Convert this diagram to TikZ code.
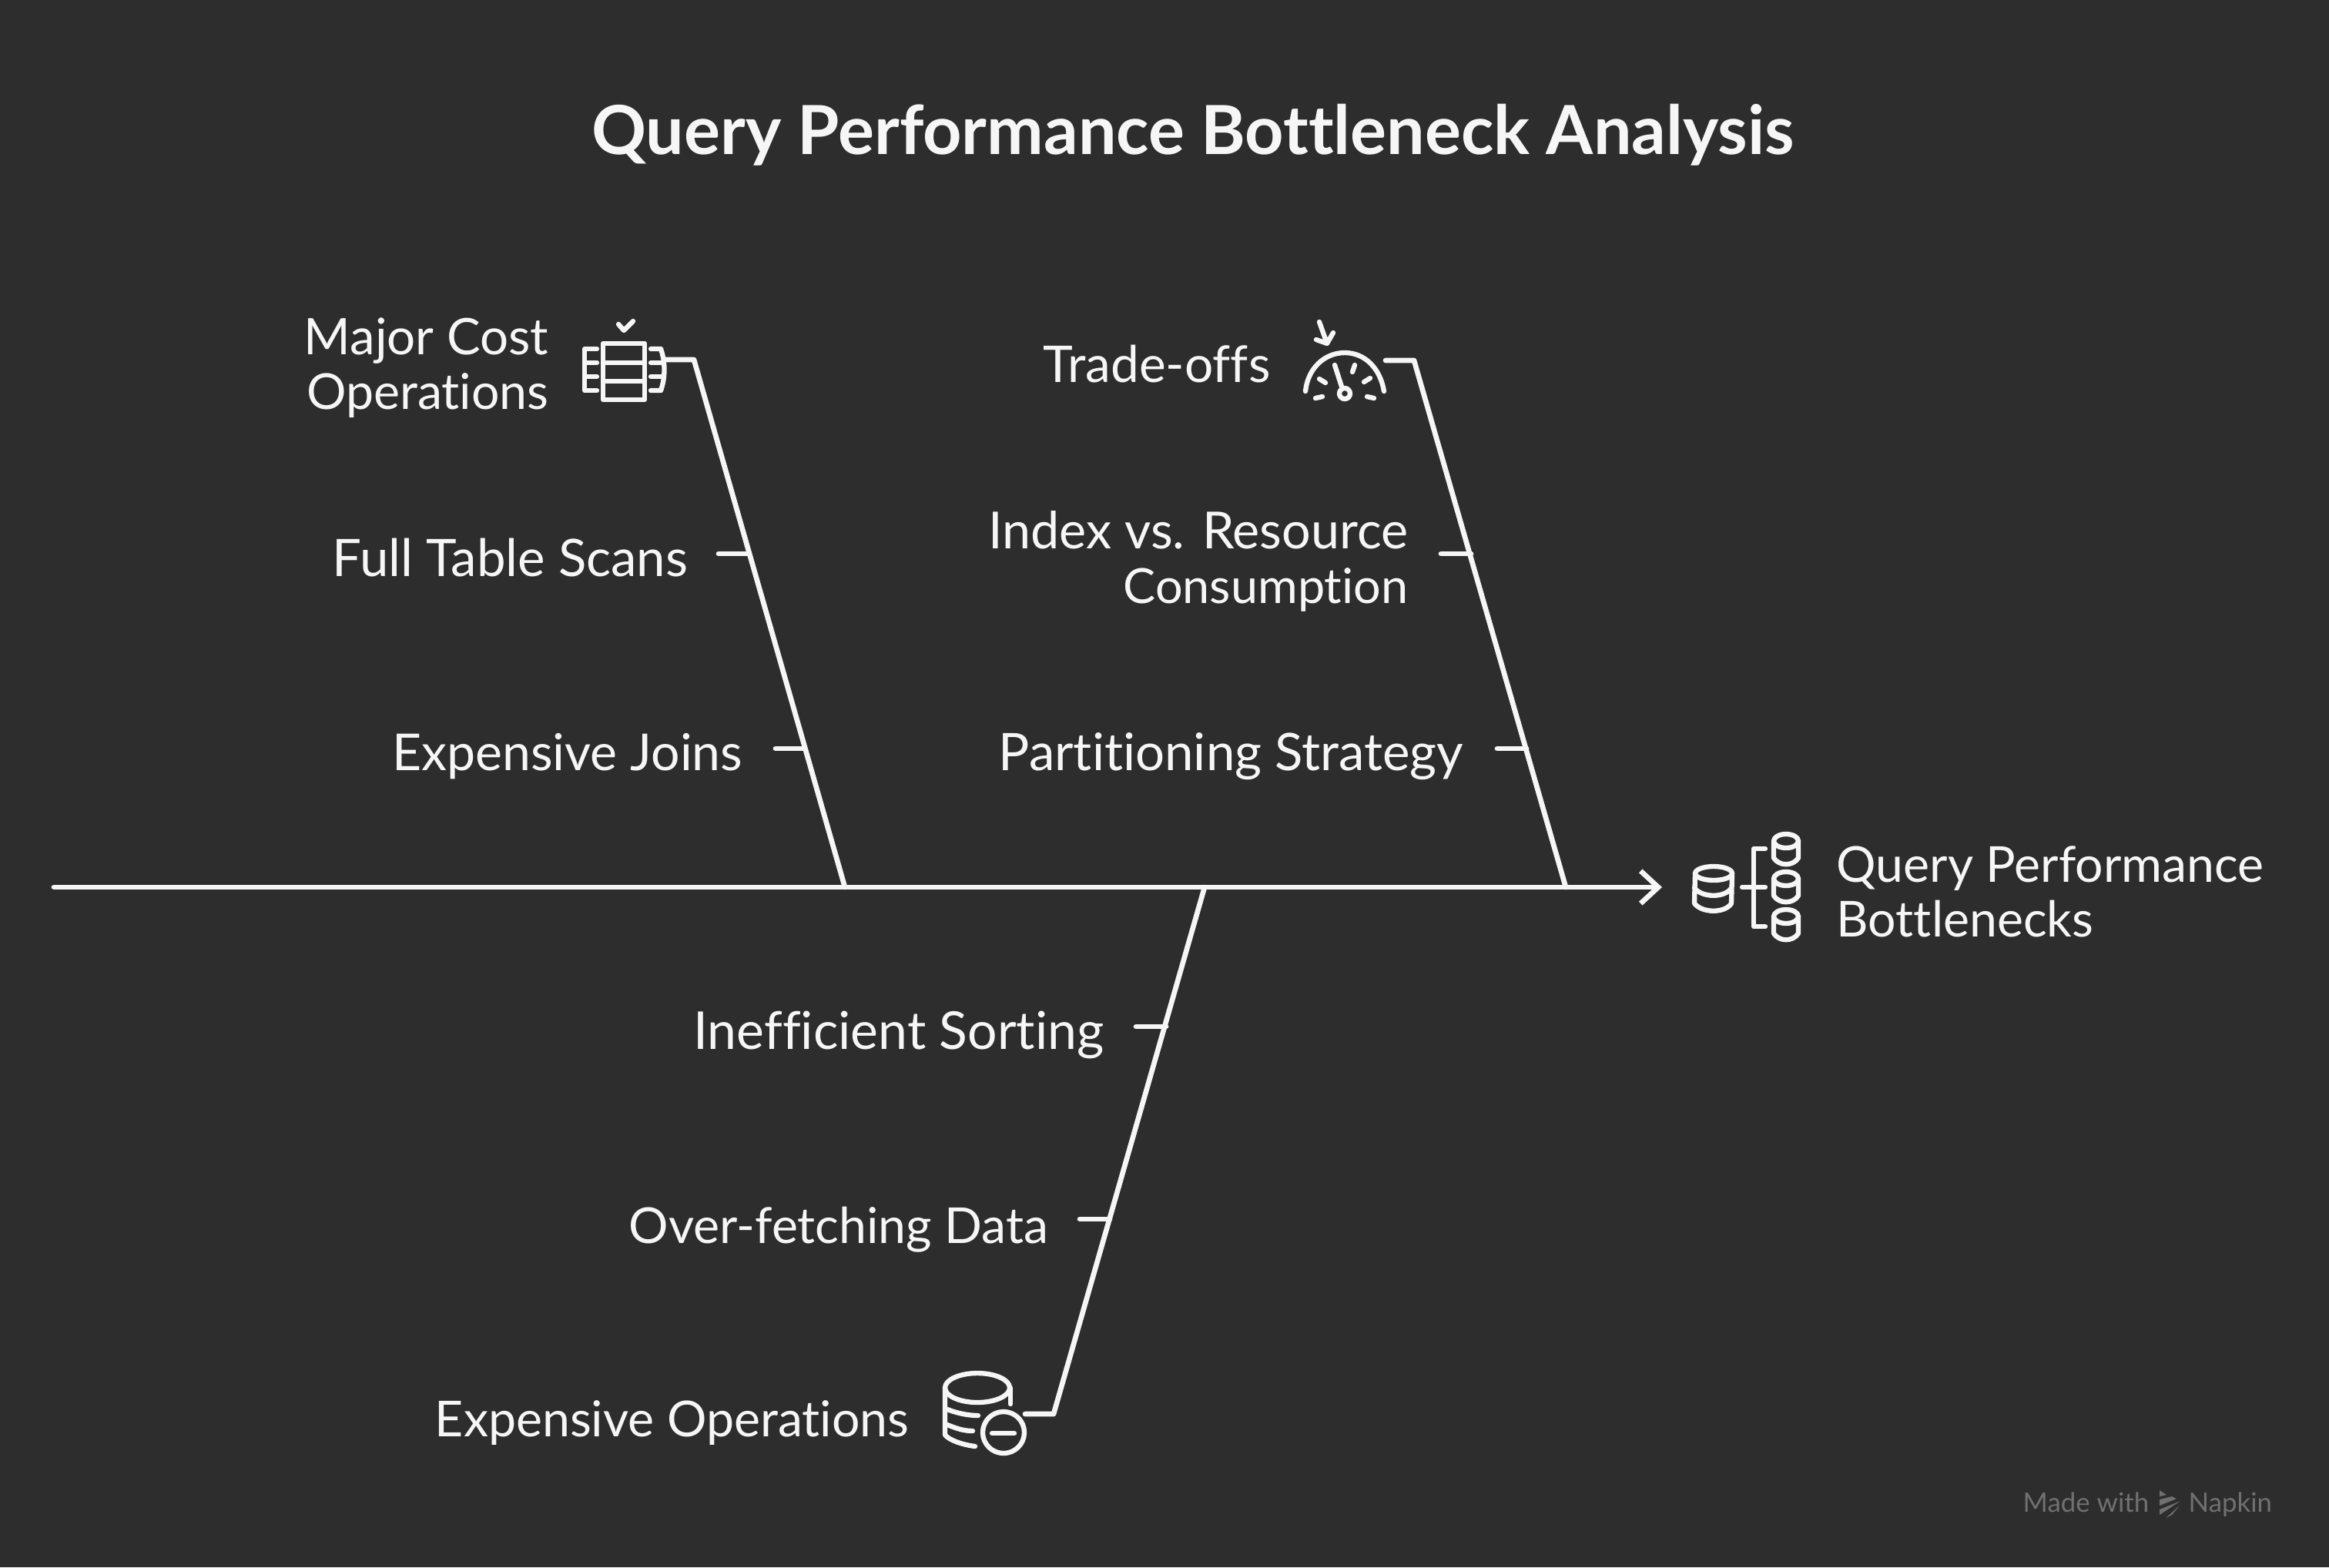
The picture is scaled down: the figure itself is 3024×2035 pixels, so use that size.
\documentclass[tikz,border=0pt]{standalone}
\usepackage{fontspec}
\setmainfont[Ligatures=CommonOff]{Lato}
\usetikzlibrary{arrows.meta, positioning}
\definecolor{boardgrey}{HTML}{2D2D2D}
\definecolor{chalk}{HTML}{F6F6F6}
\definecolor{stampgrey}{HTML}{707070}
\tikzset{
  bone/.style={draw=chalk, line width=1.9pt, line cap=round, line join=round},
  glyph/.style={draw=chalk, line width=1.8pt, line cap=round, line join=round},
  lbl/.style={text=chalk, inner sep=0pt, align=right, anchor=east, font=\fontsize{#1}{20.2}\selectfont},
  lbl/.default=18.3,
  stamp/.style={text=stampgrey, inner sep=0pt, font=\fontsize{9.9}{11}\selectfont},
}

\begin{document}
\begin{tikzpicture}[x=0.01cm,y=-0.01cm]
    \useasboundingbox (0,0) rectangle (3024,2035);
    \fill[boardgrey] (0,0) rectangle (3024,2035);

      \node[text=chalk, inner sep=0pt, font=\fontsize{25}{29}\bfseries\selectfont] (title) at (1549,175) {Query Performance Bottleneck Analysis};

      % spine
      \coordinate (tail) at (70,1152);
      \coordinate (head) at (2158,1152);
      \draw[bone, -{Straight Barb[length=6.5pt,width=12pt]}] (tail) -- (head);

      % upper left rib
      \coordinate (cost_s) at (863,467);
      \coordinate (cost_c) at (901,467);
      \coordinate (cost_e) at (1097,1152);
      \draw[bone] (cost_s) -- (cost_c) -- (cost_e);

      \node[lbl] (cost)  at (713,478) {\fontsize{18.6}{20.2}\selectfont Major Cost\\Operations};
      \node[lbl=19.1] (scans) at (894,724) {Full Table Scans};
      \node[lbl=18.8] (joins) at (965,982) {Expensive Joins};

      \coordinate (scans_s) at (933,719);
      \coordinate (scans_e) at (972,719);
      \coordinate (joins_s) at (1007,972);
      \coordinate (joins_e) at (1045,972);
      \draw[bone] (scans_s) -- (scans_e);
      \draw[bone] (joins_s) -- (joins_e);

      % upper right rib
      \coordinate (trade_s) at (1799,468);
      \coordinate (trade_c) at (1836,468);
      \coordinate (trade_e) at (2033,1152);
      \draw[bone] (trade_s) -- (trade_c) -- (trade_e);

      \node[lbl=18.7] (trade) at (1650,473) {Trade-offs};
      \node[lbl=18.9] (index) at (1829,729) {Index vs. Resource\\\fontsize{17.9}{20.2}\selectfont Consumption};
      \node[lbl=19.1] (parts) at (1901,982) {Partitioning Strategy};

      \coordinate (index_s) at (1871,719);
      \coordinate (index_e) at (1910,719);
      \coordinate (parts_s) at (1944,972);
      \coordinate (parts_e) at (1982,972);
      \draw[bone] (index_s) -- (index_e);
      \draw[bone] (parts_s) -- (parts_e);

      % lower rib
      \coordinate (ops_s) at (1331,1836);
      \coordinate (ops_c) at (1368,1836);
      \coordinate (ops_e) at (1564,1152);
      \draw[bone] (ops_s) -- (ops_c) -- (ops_e);

      \node[lbl=19.3] (sorting) at (1434,1344) {Inefficient Sorting};
      \node[lbl]      (fetch)   at (1362,1597) {Over-fetching Data};
      \node[lbl]      (ops)     at (1181,1848) {Expensive Operations};

      \coordinate (sorting_s) at (1475,1333);
      \coordinate (sorting_e) at (1514,1333);
      \coordinate (fetch_s) at (1402,1583);
      \coordinate (fetch_e) at (1441,1583);
      \draw[bone] (sorting_s) -- (sorting_e);
      \draw[bone] (fetch_s) -- (fetch_e);

      % effect
      \node[lbl, anchor=west, align=left] (effect) at (2384,1158) {Query Performance\\Bottlenecks};

      % table icon
      \draw[glyph] (783,446) rectangle (837,519);
      \draw[glyph] (783,471) -- (837,471) (783,495) -- (837,495);
      \draw[glyph] (775,453) -- (759,453) -- (759,507) -- (775,507);
      \draw[glyph] (759,471) -- (775,471) (759,489) -- (775,489);
      \draw[glyph] (845,453) -- (858,453) .. controls (864,470) and (864,490) .. (858,507) -- (845,507);
      \draw[glyph] (845,471) -- (861,471) (845,489) -- (861,489);
      \draw[glyph] (803,421) -- (810,429) -- (822,417);

      % gauge icon
      \draw[glyph] (1695,508) .. controls (1698,478) and (1720,458) .. (1746,458) .. controls (1772,458) and (1792,478) .. (1797,508);
      \draw[glyph] (1746,511) circle [radius=7];
      \draw[glyph] (1733,474) -- (1742,502);
      \draw[glyph] (1708,517) -- (1717,515) (1713,492) -- (1721,497) (1759,474) -- (1756,483);
      \draw[glyph] (1779,491) -- (1771,496) (1775,515) -- (1784,517);
      \draw[glyph] (1713,418) -- (1723,446) (1709,441) -- (1723,446) -- (1731,432);

      % database group icon
      \draw[glyph] (2225,1134) ellipse [x radius=24, y radius=9];
      \draw[glyph] (2201,1134) -- (2200,1173) .. controls (2210,1186) and (2240,1186) .. (2248,1173) -- (2249,1134);
      \draw[glyph] (2200,1153) .. controls (2210,1166) and (2240,1166) .. (2248,1153);
      \draw[glyph] (2292,1102) -- (2277,1102) -- (2277,1203) -- (2292,1203);
      \draw[glyph] (2262,1152) -- (2292,1152);
      \draw[glyph] (2319,1092) ellipse [x radius=16, y radius=9];
      \draw[glyph] (2303,1092) -- (2303,1114) .. controls (2310,1125) and (2328,1125) .. (2335,1114) -- (2335,1092);
      \draw[glyph] (2319,1141) ellipse [x radius=16, y radius=9];
      \draw[glyph] (2303,1141) -- (2303,1163) .. controls (2310,1174) and (2328,1174) .. (2335,1163) -- (2335,1141);
      \draw[glyph] (2319,1190) ellipse [x radius=16, y radius=9];
      \draw[glyph] (2303,1190) -- (2303,1212) .. controls (2310,1223) and (2328,1223) .. (2335,1212) -- (2335,1190);

      % expensive database icon
      \draw[glyph] (1269,1802) ellipse [x radius=42, y radius=19];
      \draw[glyph] (1227,1802) -- (1227,1863) .. controls (1232,1870) and (1250,1876) .. (1266,1878);
      \draw[glyph] (1312,1802) -- (1312,1823);
      \draw[glyph] (1230,1830) .. controls (1240,1834) and (1255,1838) .. (1270,1838);
      \draw[glyph] (1230,1850) .. controls (1240,1854) and (1250,1858) .. (1263,1858);
      \draw[glyph] (1303,1860) circle [radius=27];
      \draw[glyph] (1288,1861) -- (1317,1861);

      % watermark
      \node[stamp, anchor=base west] (made) at (2626,1963) {Made with};
      \node[stamp, anchor=base west] (napkin) at (2841,1963) {Napkin};
      \fill[stampgrey] (2804,1935) -- (2813,1941) -- (2804,1943) -- cycle;
      \fill[stampgrey] (2804,1947) -- (2820,1943) -- (2826,1946) -- (2804,1955) -- cycle;
      \fill[stampgrey] (2804,1960) -- (2831,1949) -- (2822,1955) -- (2804,1967) -- cycle;
      \fill[stampgrey] (2812,1971) -- (2830,1955) -- (2820,1967) -- cycle;
    \end{tikzpicture}
\end{document}
